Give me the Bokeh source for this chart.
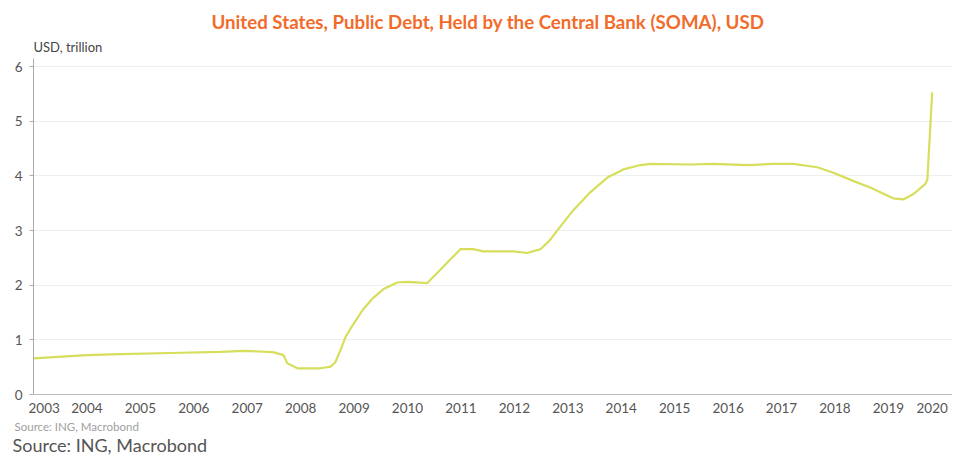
from bokeh.plotting import figure
from bokeh.models import Title, FixedTicker, Range1d
from bokeh.embed import file_html
from bokeh.resources import INLINE

# fractional years and SOMA treasury holdings (USD trillion)
years = [2003.50, 2004.50, 2005.13, 2006.06, 2007.00, 2007.43, 2007.88, 2008.00,
         2008.18, 2008.25, 2008.44, 2008.87, 2009.06, 2009.15, 2009.24, 2009.34,
         2009.43, 2009.67, 2009.86, 2010.05, 2010.31, 2010.50, 2010.87, 2011.11,
         2011.49, 2011.73, 2011.92, 2012.48, 2012.74, 2012.99, 2013.17, 2013.30,
         2013.60, 2013.92, 2014.24, 2014.54, 2014.86, 2015.05, 2015.79, 2016.22,
         2016.86, 2017.35, 2017.72, 2018.17, 2018.47, 2018.84, 2019.16, 2019.59,
         2019.78, 2019.97, 2020.19, 2020.23, 2020.32]
values = [0.66, 0.72, 0.74, 0.76, 0.78, 0.80, 0.78, 0.77,
          0.72, 0.57, 0.48, 0.48, 0.51, 0.59, 0.80, 1.05,
          1.20, 1.56, 1.77, 1.93, 2.05, 2.06, 2.04, 2.28,
          2.66, 2.66, 2.62, 2.62, 2.59, 2.66, 2.83, 3.00,
          3.37, 3.70, 3.97, 4.12, 4.20, 4.22, 4.21, 4.22,
          4.20, 4.22, 4.22, 4.16, 4.06, 3.91, 3.79, 3.59,
          3.57, 3.67, 3.85, 3.94, 5.53]

tick_labels = [str(y) for y in range(2003, 2021)]
tick_pos = [2003.70] + [y + 0.5 for y in range(2004, 2020)] + [2020.32]
y_ticks = [0, 1, 2, 3, 4, 5, 6]

title_text = "United States, Public Debt, Held by the Central Bank (SOMA), USD"
unit_text = "USD, trillion"
source_small = "Source: ING, Macrobond"
source_big = "Source: ING, Macrobond"

FONT = "Lato"

p = figure(width=952, height=457, output_backend="svg", toolbar_location=None,
           x_range=Range1d(2003.5, 2020.70), y_range=Range1d(0, 6.15),
           min_border_left=33, min_border_right=0, min_border_top=58,
           min_border_bottom=63, background_fill_color="white",
           border_fill_color="white", title=None)
p.outline_line_color = None

p.line(years, values, line_color="#D6DE5C", line_width=2.2)

# axes
p.xaxis.ticker = FixedTicker(ticks=tick_pos)
p.xaxis.major_label_overrides = {t: l for t, l in zip(tick_pos, tick_labels)}
p.xaxis.major_tick_line_color = None
p.xaxis.minor_tick_line_color = None
p.xaxis.axis_line_color = "#BBBBBB"
p.xaxis.major_label_text_font = FONT
p.xaxis.major_label_text_font_size = "13.5px"
p.xaxis.major_label_text_color = "#555555"
p.xaxis.major_label_standoff = 2

p.yaxis.ticker = FixedTicker(ticks=y_ticks)
p.yaxis.minor_tick_line_color = None
p.yaxis.axis_line_color = "#AAAAAA"
p.yaxis.major_tick_line_color = "#AAAAAA"
p.yaxis.major_tick_in = 0
p.yaxis.major_tick_out = 4
p.yaxis.major_label_standoff = 7
p.yaxis.major_label_text_font = FONT
p.yaxis.major_label_text_font_size = "13.5px"
p.yaxis.major_label_text_color = "#555555"

p.xgrid.grid_line_color = None
p.ygrid.ticker = FixedTicker(ticks=[1, 2, 3, 4, 5, 6])
p.ygrid.grid_line_color = "#EEEEEE"

# texts (titles stack outward from the frame in the order they are added)
p.add_layout(Title(text=unit_text, align="left", text_font=FONT,
                   text_font_size="13px", text_font_style="normal",
                   text_color="#444444", standoff=8), "above")
p.add_layout(Title(text=title_text, align="left", offset=178, text_font=FONT,
                   text_font_size="18.7px", text_font_style="bold",
                   text_color="#F26B2A", standoff=0), "above")
p.add_layout(Title(text=source_small, align="left", offset=-19, text_font=FONT,
                   text_font_size="11.5px", text_font_style="normal",
                   text_color="#A0A0A0", standoff=5), "below")
p.add_layout(Title(text=source_big, align="left", offset=-21, text_font=FONT,
                   text_font_size="18px", text_font_style="normal",
                   text_color="#555555", standoff=-8), "below")

open("out.html", "w").write(file_html(p, INLINE))
